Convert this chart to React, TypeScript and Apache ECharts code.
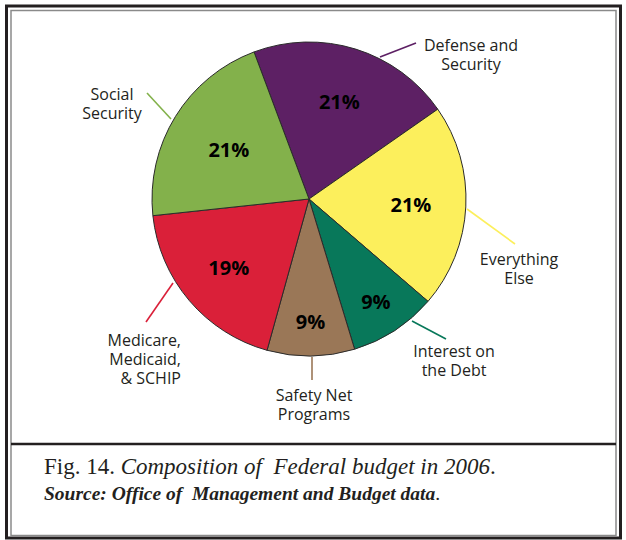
import React, { useEffect, useRef } from "react";
import * as echarts from "echarts";

const categories = [
  "Defense and\nSecurity",
  "Everything\nElse",
  "Interest on\nthe Debt",
  "Safety Net\nPrograms",
  "Medicare,\nMedicaid,\n& SCHIP",
  "Social\nSecurity",
];
const shares = [21, 21, 9, 9, 19, 21];
const sliceColors = ["#5d2064", "#fcef5c", "#08785a", "#9a7757", "#da2039", "#83b14b"];
const pctTextColors = ["#ffffff", "#231f20", "#ffffff", "#ffffff", "#ffffff", "#231f20"];
const caption = "Composition of  Federal budget in 2006";
const source = "Source: Office of  Management and Budget data";

// layout (pixels)
const CX = 309;
const CY = 199;
const R = 157;
const START_CLOCK = -20.5; // degrees clockwise from 12 o'clock
const insideK = [0.65, 0.65, 0.78, 0.78, 0.67, 0.6];
const outLabelPos: [number, number, string][] = [
  [471, 54, "center"],
  [519, 268, "center"],
  [454, 360, "center"],
  [314, 404, "center"],
  [181, 359, "right"],
  [112, 103, "center"],
];
const leaderLines: number[][][] = [
  [[380, 57], [416, 43]],
  [[467, 209], [515, 244]],
  [[412, 321], [446, 339]],
  [[312, 357], [312, 380]],
  [[173, 283], [146, 322]],
  [[171, 119], [147, 93]],
];

export default function App() {
  const ref = useRef<HTMLDivElement>(null);
  useEffect(() => {
    if (!ref.current) return;
    const chart = echarts.init(ref.current, null, { renderer: "svg" });
    const total = shares.reduce((a, b) => a + b, 0);
    const midAngle = (i: number) => {
      const before = shares.slice(0, i).reduce((a, b) => a + b, 0);
      return ((START_CLOCK + ((before + shares[i] / 2) / total) * 360) * Math.PI) / 180;
    };
    const labelFont = "'Open Sans', 'Noto Sans', sans-serif";
    const serif = "'Liberation Serif', serif";
    const data = categories.map((name, i) => ({
      name,
      value: shares[i],
      itemStyle: { color: sliceColors[i] },
    }));
    chart.setOption({
      animation: false,
      backgroundColor: "#ffffff",
      graphic: [
        {
          type: "rect",
          shape: { x: 6.5, y: 6, width: 614, height: 532 },
          style: { fill: "none", stroke: "#231f20", lineWidth: 3 },
          silent: true,
        },
        {
          type: "rect",
          shape: { x: 11, y: 10.5, width: 605, height: 525 },
          style: { fill: "none", stroke: "#8a8a8a", lineWidth: 1.5 },
          silent: true,
        },
        {
          type: "line",
          shape: { x1: 11, y1: 444, x2: 616, y2: 444 },
          style: { stroke: "#231f20", lineWidth: 2.5 },
          silent: true,
        },
        {
          type: "text",
          x: 44,
          y: 466,
          style: {
            text: "Fig. 14. {i|" + caption + "}.",
            font: "23px " + serif,
            fill: "#231f20",
            verticalAlign: "middle",
            rich: {
              i: { font: "italic 23px " + serif, fill: "#231f20" },
            },
          },
        },
        {
          type: "text",
          x: 44,
          y: 493,
          style: {
            text: "{b|" + source + "}.",
            font: "19.5px " + serif,
            fill: "#231f20",
            verticalAlign: "middle",
            rich: {
              b: { font: "italic bold 19.5px " + serif, fill: "#231f20" },
            },
          },
        },
      ],
      series: [
        {
          type: "pie",
          center: [CX, CY],
          radius: R,
          startAngle: 90 - START_CLOCK,
          clockwise: true,
          silent: true,
          data,
          itemStyle: { borderColor: "#2b2b2b", borderWidth: 1 },
          label: {
            show: true,
            position: "inside",
            formatter: (p: any) => p.value + "%",
            fontFamily: labelFont,
            fontWeight: "bold",
            fontSize: 20,
            color: (p: any) => pctTextColors[p.dataIndex],
          },
          labelLine: { show: false },
          labelLayout: (p: any) => {
            const i = p.dataIndex;
            const a = midAngle(i);
            return {
              x: CX + insideK[i] * R * Math.sin(a),
              y: CY - insideK[i] * R * Math.cos(a),
              align: "center",
              verticalAlign: "middle",
            };
          },
          z: 2,
        },
        {
          type: "pie",
          center: [CX, CY],
          radius: R,
          startAngle: 90 - START_CLOCK,
          clockwise: true,
          silent: true,
          data: categories.map((name, i) => ({
            name,
            value: shares[i],
            itemStyle: { color: "transparent", borderWidth: 0 },
            label: { align: outLabelPos[i][2] },
            labelLine: { lineStyle: { color: sliceColors[i] } },
          })),
          label: {
            show: true,
            position: "outside",
            formatter: "{b}",
            fontFamily: labelFont,
            fontSize: 16,
            fontWeight: 500,
            lineHeight: 19,
            color: "#231f20",
          },
          labelLine: { show: true, length: 20, length2: 0, lineStyle: { width: 1.6 } },
          labelLayout: (p: any) => {
            const i = p.dataIndex;
            const pts = leaderLines[i];
            return {
              x: outLabelPos[i][0],
              y: outLabelPos[i][1],
              align: outLabelPos[i][2],
              verticalAlign: "middle",
              labelLinePoints: [pts[0], pts[1], pts[1]],
            };
          },
          z: 3,
        },
      ],
    });
    return () => chart.dispose();
  }, []);
  return (
    <div
      ref={ref}
      style={{ position: "fixed", left: 0, top: 0, width: 626, height: 540 }}
    />
  );
}
